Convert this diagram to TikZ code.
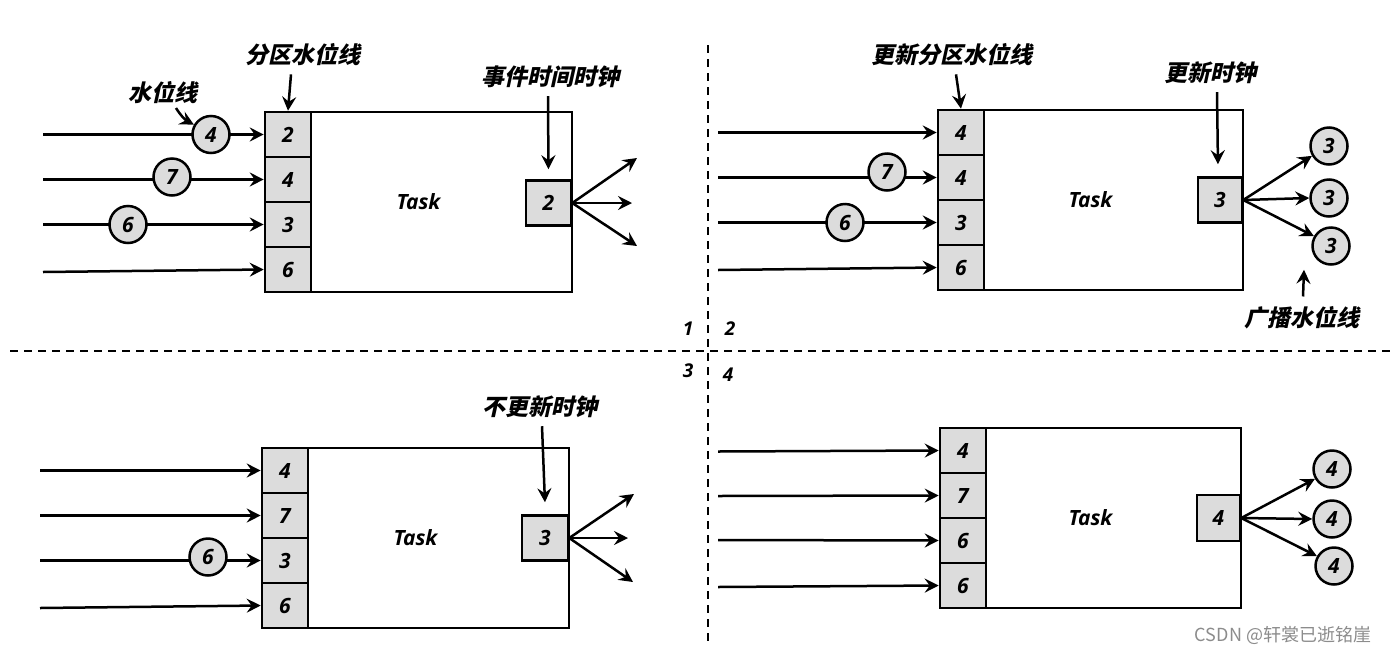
\documentclass[tikz,border=0pt]{standalone}
\usepackage{fontspec}
\usetikzlibrary{arrows.meta,calc}
\newfontfamily\cjk{Noto Sans CJK SC}[FakeSlant=0.22]
\newfontfamily\cjkup{Noto Sans CJK SC}
\newfontfamily\numfont{Open Sans}
\definecolor{cellgray}{HTML}{DCDCDC}
\tikzset{
  arr/.style={line width=2.5pt,-{Stealth[length=14pt,width=14pt,inset=5pt]}},
  cell/.style={draw,line width=2.6pt,fill=cellgray,minimum width=46pt,minimum height=45pt,inner sep=0pt,font=\numfont\bfseries\itshape\fontsize{21}{21}\selectfont},
  ball/.style={draw,line width=2.5pt,fill=cellgray,circle,minimum size=37pt,inner sep=0pt,font=\numfont\bfseries\itshape\fontsize{21}{21}\selectfont},
  taskbox/.style={draw,line width=2.5pt,inner sep=0pt,font=\numfont\bfseries\itshape\fontsize{21}{21}\selectfont},
  lbl/.style={font=\cjk\bfseries\fontsize{23}{23}\selectfont,inner sep=0pt},
  qnum/.style={font=\numfont\bfseries\itshape\fontsize{19}{19}\selectfont,inner sep=0pt},
  divider/.style={line width=1.6pt,dash pattern=on 8pt off 6pt}
}
\begin{document}
\begin{tikzpicture}[x=1pt,y=-1pt]
\useasboundingbox (0,0) rectangle (1394,654);
\fill[white] (0,0) rectangle (1394,654);

% dividers
\coordinate (vt) at (708,45);
\coordinate (vb) at (708,645);
\coordinate (hl) at (10,351);
\coordinate (hr) at (1394,351);
\draw[divider] (vt) -- (vb);
\draw[divider] (hl) -- (hr);
\node[qnum] (n1) at (688,329) {1};
\node[qnum] (n2) at (730,329) {2};
\node[qnum] (n3) at (688,371) {3};
\node[qnum] (n4) at (728,375) {4};

% ================= Quadrant 1 =================
\node[taskbox,minimum width=307pt,minimum height=180pt] (t1) at (418.5,202) {Task};
\node[cell] (a1) at (288,134.5) {2};
\node[cell] (a2) at (288,179.5) {4};
\node[cell] (a3) at (288,224.5) {3};
\node[cell] (a4) at (288,269.5) {6};
\node[cell,minimum width=45pt,anchor=east] (k1) at ($(t1.east)+(-1,1)$) {2};
\coordinate (s11) at (43,134.5);
\coordinate (s12) at (43,179.5);
\coordinate (s13) at (43,224.5);
\coordinate (s14) at (43,272);
\draw[arr] (s11) -- (a1.west);
\draw[arr] (s12) -- (a2.west);
\draw[arr] (s13) -- (a3.west);
\draw[arr] (s14) -- (a4.west);
\node[ball] (b11) at (211,134.5) {4};
\node[ball] (b12) at (172,177) {7};
\node[ball] (b13) at (128,224.5) {6};
\coordinate (o11) at (637,158);
\coordinate (o12) at (632,203);
\coordinate (o13) at (637,246);
\draw[arr] (k1.east) -- (o11);
\draw[arr] (k1.east) -- (o12);
\draw[arr] (k1.east) -- (o13);
\node[lbl] (l11) at (163,93) {水位线};
\draw[arr] (176,108) to[bend right=15] (b11.150);
\node[lbl] (l12) at (303,55) {分区水位线};
\draw[arr] ($(l12.south)+(-12,8)$) -- (a1.north);
\node[lbl] (l13) at (550,77) {事件时间时钟};
\draw[arr] ($(l13.south)+(-2,8)$) -- ($(k1.north)+(0,-10)$);

% ================= Quadrant 2 =================
\node[taskbox,minimum width=305pt,minimum height=180pt] (t2) at (1090.5,200) {Task};
\node[cell] (c1) at (961,132.5) {4};
\node[cell] (c2) at (961,177.5) {4};
\node[cell] (c3) at (961,222.5) {3};
\node[cell] (c4) at (961,267.5) {6};
\node[cell,minimum width=44pt,anchor=east] (k2) at ($(t2.east)+(-1,0)$) {3};
\coordinate (s21) at (718,132.5);
\coordinate (s22) at (718,177.5);
\coordinate (s23) at (718,222.5);
\coordinate (s24) at (718,270);
\draw[arr] (s21) -- (c1.west);
\draw[arr] (s22) -- (c2.west);
\draw[arr] (s23) -- (c3.west);
\draw[arr] (s24) -- (c4.west);
\node[ball] (b22) at (887,172) {7};
\node[ball] (b23) at (845,222.5) {6};
\node[ball] (r21) at (1329,146) {3};
\node[ball] (r22) at (1329,198) {3};
\node[ball] (r23) at (1331,246) {3};
\draw[arr] (k2.east) -- (r21.210);
\draw[arr] (k2.east) -- (r22.west);
\draw[arr] (k2.east) -- (r23.150);
\node[lbl] (l21) at (952,55) {更新分区水位线};
\draw[arr] ($(l21.south)+(4,8)$) -- (c1.north);
\node[lbl] (l22) at (1210,73) {更新时钟};
\draw[arr] ($(l22.south)+(7,8)$) -- ($(k2.north)+(-2,-12)$);
\node[lbl] (l23) at (1302,318) {广播水位线};
\draw[arr] ($(l23.north)+(1,-10)$) -- ($(r23.south)+(-27,4)$);

% ================= Quadrant 3 =================
\node[taskbox,minimum width=307pt,minimum height=180pt] (t3) at (415.5,538) {Task};
\node[cell] (d1) at (285,470.5) {4};
\node[cell] (d2) at (285,515.5) {7};
\node[cell] (d3) at (285,560.5) {3};
\node[cell] (d4) at (285,605.5) {6};
\node[cell,anchor=east] (k3) at ($(t3.east)+(-1,0)$) {3};
\coordinate (s31) at (40,470.5);
\coordinate (s32) at (40,515.5);
\coordinate (s33) at (40,560.5);
\coordinate (s34) at (40,608);
\draw[arr] (s31) -- (d1.west);
\draw[arr] (s32) -- (d2.west);
\draw[arr] (s33) -- (d3.west);
\draw[arr] (s34) -- (d4.west);
\node[ball] (b33) at (208,557) {6};
\coordinate (o31) at (634,494);
\coordinate (o32) at (628,538);
\coordinate (o33) at (633,582);
\draw[arr] (k3.east) -- (o31);
\draw[arr] (k3.east) -- (o32);
\draw[arr] (k3.east) -- (o33);
\node[lbl] (l31) at (540,407) {不更新时钟};
\draw[arr] ($(l31.south)+(2,8)$) -- ($(k3.north)+(0,-12)$);

% ================= Quadrant 4 =================
\node[taskbox,minimum width=301pt,minimum height=180pt] (t4) at (1090.5,518) {Task};
\node[cell] (e1) at (963,450.5) {4};
\node[cell] (e2) at (963,495.5) {7};
\node[cell] (e3) at (963,540.5) {6};
\node[cell] (e4) at (963,585.5) {6};
\node[cell,minimum width=43pt,minimum height=46pt,anchor=east] (k4) at ($(t4.east)+(-1,0)$) {4};
\coordinate (s41) at (718,451.5);
\coordinate (s42) at (718,496);
\coordinate (s43) at (718,540);
\coordinate (s44) at (718,587);
\draw[arr] (s41) -- (e1.west);
\draw[arr] (s42) -- (e2.west);
\draw[arr] (s43) -- (e3.west);
\draw[arr] (s44) -- (e4.west);
\node[ball] (r41) at (1332,469) {4};
\node[ball] (r42) at (1332,519) {4};
\node[ball] (r43) at (1334,566) {4};
\draw[arr] (k4.east) -- (r41.210);
\draw[arr] (k4.east) -- (r42.west);
\draw[arr] (k4.east) -- (r43.150);

% watermark
\node[font=\cjkup\fontsize{18}{18}\selectfont,text=black!45,inner sep=0pt] (wm) at (1283,635) {CSDN @轩裳已逝铭崖};
\end{tikzpicture}
\end{document}
